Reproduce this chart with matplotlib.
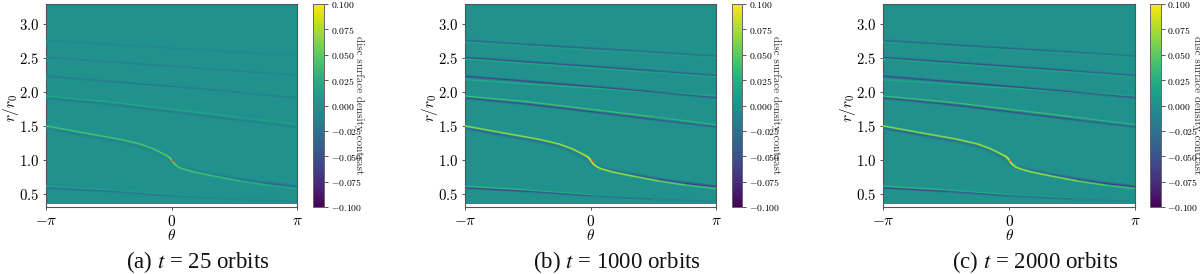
import numpy as np
import matplotlib
matplotlib.use("Agg")
import matplotlib.pyplot as plt
from matplotlib.collections import LineCollection
from matplotlib.colors import Normalize

plt.rcParams['font.family'] = ['cmr10', 'DejaVu Sans']
plt.rcParams['mathtext.fontset'] = 'cm'
plt.rcParams['axes.formatter.use_mathtext'] = True

W, H = 1200, 274
# --- data -----------------------------------------------------------------
captions = ['(a) $t$ = 25 orbits', '(b) $t$ = 1000 orbits', '(c) $t$ = 2000 orbits']
r_ticks = [0.5, 1.0, 1.5, 2.0, 2.5, 3.0]
cbar_ticks = [-0.100, -0.075, -0.050, -0.025, 0.000, 0.025, 0.050, 0.075, 0.100]
theta_ticks_labels = [r'$-\pi$', r'$0$', r'$\pi$']
background_level = [0.001, 0.001, 0.001]
disc_r_min, disc_r_max = 0.36, 3.3
r_lim = (0.31, 3.3)

arm_theta = [-3.1416, -1.57, 0.0, 1.57, 3.1416]
# outer arms: crest and trough radius at arm_theta
arm1_pos = [1.945, 1.860, 1.750, 1.640, 1.525]
arm1_neg = [1.915, 1.825, 1.715, 1.600, 1.490]
arm2_pos = [2.185, 2.120, 2.060, 2.000, 1.950]
arm2_neg = [2.235, 2.160, 2.085, 2.005, 1.920]
arm3_pos = [2.485, 2.420, 2.355, 2.290, 2.225]
arm3_neg = [2.510, 2.445, 2.380, 2.315, 2.245]
arm4_pos = [2.735, 2.675, 2.620, 2.565, 2.510]
arm4_neg = [2.760, 2.700, 2.645, 2.590, 2.530]
low_pos = [0.620, 0.565, 0.495, 0.445, 0.400]
low_neg = [0.597, 0.545, 0.480, 0.435, 0.400]
low_fade = [1.0, 0.8, 0.55, 0.3, 0.0]
top_fade = [0.9, 1.0, 1.0, 0.9, 0.6]

# main arm through the planet
main_theta = [-3.1416, -2.21, -1.30, -0.79, -0.46, -0.21, -0.12, -0.06, -0.02,
              0.02, 0.08, 0.16, 0.25, 0.54, 1.04, 1.71, 2.38, 3.1416]
main_pos = [1.505, 1.405, 1.310, 1.240, 1.170, 1.095, 1.068, 1.045, 1.020,
            0.985, 0.940, 0.905, 0.880, 0.830, 0.770, 0.695, 0.635, 0.585]
main_neg = [1.480, 1.375, 1.280, 1.205, 1.130, 1.055, 1.025, 1.000, 0.970,
            0.950, 0.925, 0.910, 0.895, 0.850, 0.790, 0.718, 0.660, 0.607]
main_pos_a = [0.040, 0.042, 0.043, 0.045, 0.046, 0.048, 0.052, 0.056, 0.060,
              0.060, 0.056, 0.050, 0.046, 0.042, 0.038, 0.032, 0.022, 0.012]
main_pos_b = [0.066, 0.068, 0.070, 0.073, 0.076, 0.080, 0.086, 0.092, 0.098,
              0.098, 0.092, 0.084, 0.078, 0.074, 0.070, 0.060, 0.045, 0.030]
main_neg_a = [-0.014, -0.012, -0.010, -0.009, -0.007, -0.005, -0.004, -0.003, -0.002,
              -0.002, -0.003, -0.005, -0.006, -0.009, -0.014, -0.022, -0.032, -0.040]
main_neg_b = [-0.038, -0.032, -0.026, -0.022, -0.018, -0.014, -0.012, -0.010, -0.006,
              -0.006, -0.010, -0.014, -0.018, -0.026, -0.038, -0.050, -0.062, -0.072]
main_pos_levels = [main_pos_a, main_pos_b, main_pos_b]
main_neg_levels = [main_neg_a, main_neg_b, main_neg_b]

# crest, trough amplitude per arm per panel
arm1_amp = [(0.020, -0.018), (0.042, -0.055), (0.040, -0.055)]
arm2_amp = [(0.004, -0.018), (0.024, -0.060), (0.022, -0.060)]
arm3_amp = [(0.002, -0.012), (0.020, -0.050), (0.018, -0.050)]
arm4_amp = [(0.001, -0.006), (0.012, -0.036), (0.010, -0.036)]
low_amp = [(0.016, -0.028), (0.036, -0.065), (0.034, -0.065)]

planet_theta = [0.0, 0.03, 0.03]
planet_r = 1.0

# layout in reference pixels
axes_x = [(46.0, 297.3), (465.0, 716.0), (883.3, 1135.0)]
cbar_x = [(313.3, 323.6), (731.7, 741.7), (1150.0, 1160.5)]
y_top, y_bot = 3.7, 207.3
caption_x = [198.0, 617.0, 1035.0]

norm = Normalize(-0.1, 0.1)
cmap = plt.get_cmap('viridis')


def box(x0, x1):
    return [x0 / W, 1 - y_bot / H, (x1 - x0) / W, (y_bot - y_top) / H]


def trace(ax, th, r, vals, lw):
    pts = np.column_stack([th, r])
    segs = np.stack([pts[:-1], pts[1:]], axis=1)
    v = 0.5 * (np.asarray(vals)[:-1] + np.asarray(vals)[1:])
    lc = LineCollection(segs, array=v, cmap=cmap, norm=norm, linewidths=lw,
                        capstyle='round', joinstyle='round', zorder=3)
    ax.add_collection(lc)


fig = plt.figure(figsize=(W / 100, H / 100), dpi=100)
for i in range(3):
    ax = fig.add_axes(box(*axes_x[i]))
    im = ax.imshow([[background_level[i]]], extent=(-np.pi, np.pi, disc_r_min, disc_r_max),
                   origin='lower', aspect='auto', cmap=cmap, norm=norm, zorder=1)

    arms = [(arm1_pos, arm1_neg, arm1_amp, top_fade, True),
            (arm2_pos, arm2_neg, arm2_amp, top_fade, False),
            (arm3_pos, arm3_neg, arm3_amp, top_fade, False),
            (arm4_pos, arm4_neg, arm4_amp, top_fade, False),
            (low_pos, low_neg, low_amp, low_fade, False)]
    for pos, neg, amp, fade, pos_on_top in arms:
        a_pos, a_neg = amp[i]
        vp = [a_pos * f for f in fade]
        vn = [a_neg * f for f in fade]
        trace(ax, arm_theta, neg, [v * 0.3 for v in vn], 2.0)
        trace(ax, arm_theta, pos, [v * 0.3 for v in vp], 1.6)
        if pos_on_top:
            trace(ax, arm_theta, neg, vn, 0.8)
            trace(ax, arm_theta, pos, vp, 0.7)
        else:
            trace(ax, arm_theta, pos, vp, 0.7)
            trace(ax, arm_theta, neg, vn, 0.8)

    trace(ax, main_theta, main_neg, [v * 0.5 for v in main_neg_levels[i]], 2.8)
    trace(ax, main_theta, main_neg, main_neg_levels[i], 0.8)
    trace(ax, main_theta, main_pos, [v * 0.55 for v in main_pos_levels[i]], 1.5)
    trace(ax, main_theta, main_pos, main_pos_levels[i], 0.7)
    ax.plot([planet_theta[i]], [planet_r], 's', ms=1.7, mec='none', color='#e0502a', zorder=5)

    ax.set_xlim(-np.pi, np.pi)
    ax.set_ylim(*r_lim)
    ax.set_xticks([-np.pi, 0, np.pi])
    ax.set_xticklabels(theta_ticks_labels, fontsize=11)
    ax.set_yticks(r_ticks)
    ax.set_yticklabels([f'${v:.1f}$' for v in r_ticks], fontsize=10.7)
    ax.tick_params(length=2.4, width=0.7, color='#555555', pad=2.5)
    ax.set_xlabel(r'$\theta$', fontsize=11, labelpad=-1)
    ax.set_ylabel(r'$r/r_0$', fontsize=11)
    ax.yaxis.set_label_coords(-0.10, 0.49)
    for s in ax.spines.values():
        s.set_color('#555555')
        s.set_linewidth(0.8)

    cax = fig.add_axes(box(*cbar_x[i]))
    cb = fig.colorbar(im, cax=cax)
    cb.set_ticks(cbar_ticks)
    cb.set_ticklabels([f'${v:.3f}$' for v in cbar_ticks], fontsize=7)
    cax.tick_params(length=3, width=0.7, color='#555555', pad=2)
    cb.outline.set_edgecolor('#666666')
    cb.outline.set_linewidth(0.7)
    cb.set_label('disc surface density contrast', rotation=270, fontsize=8, color='#333333')
    cax.yaxis.set_label_coords(4.45, 0.5)
    cax.yaxis.label.set_va('center')

    fig.text(caption_x[i] / W, 1 - 262.5 / H, captions[i], family='Liberation Serif',
             fontsize=16.5, ha='center', va='center', math_fontfamily='stix', color='#111111')

fig.savefig('out.png', dpi=100)
